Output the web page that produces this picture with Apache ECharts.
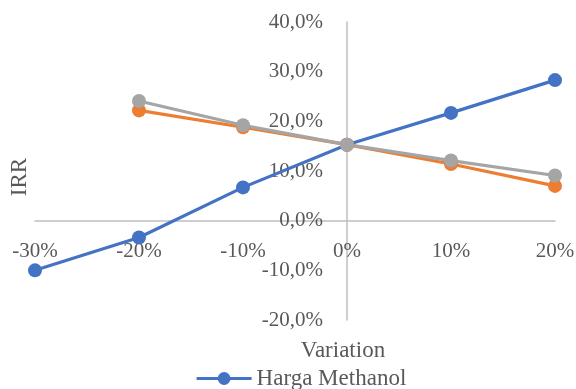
<!DOCTYPE html>
<html>
<head>
<meta charset="utf-8">
<script src="https://cdn.jsdelivr.net/npm/echarts@6/dist/echarts.min.js"></script>
<style>
  html, body { margin: 0; padding: 0; background: #fff; }
  #chart { width: 576px; height: 389px; }
</style>
</head>
<body>
<div id="chart"></div>
<script>
// variation in %, IRR in %
var variations = [-30, -20, -10, 0, 10, 20];
var hargaMethanol = [-10.0, -3.4, 6.7, 15.3, 21.7, 28.3];
var seriesOrange = [null, 22.2, 18.8, 15.3, 11.4, 7.0];
var seriesGray = [null, 24.1, 19.2, 15.3, 12.1, 9.1];

var textColor = '#595959';
var font = 'Liberation Serif';

// plot box
var gridLeft = 35, gridRight = 21, gridTop = 22, gridBottom = 69;
var plotW = 576 - gridLeft - gridRight;
var plotH = 389 - gridTop - gridBottom;
// move the axes so they cross at (0%, 0%)
var xOffset = -plotH * (20 / 60);
var yOffset = -plotW * (30 / 50);

function pairs(vals) {
  var out = [];
  for (var i = 0; i < variations.length; i++) {
    if (vals[i] !== null) out.push([variations[i], vals[i]]);
  }
  return out;
}

function lineSeries(name, vals, color) {
  return {
    name: name,
    type: 'line',
    data: pairs(vals),
    symbol: 'circle',
    symbolSize: 14,
    lineStyle: { color: color, width: 3.2 },
    itemStyle: { color: color },
    emphasis: { disabled: true }
  };
}

var chart = echarts.init(document.getElementById('chart'));
chart.setOption({
  animation: false,
  textStyle: { fontFamily: font, color: textColor },
  grid: {
    left: gridLeft, right: gridRight, top: gridTop, bottom: gridBottom,
    containLabel: false, outerBoundsMode: 'none'
  },
  xAxis: {
    type: 'value',
    min: -30, max: 20, interval: 10,
    offset: xOffset,
    axisLine: { onZero: false, lineStyle: { color: '#bfbfbf', width: 1.5 } },
    axisTick: { show: false },
    splitLine: { show: false },
    axisLabel: {
      margin: 20,
      fontFamily: font, fontSize: 21, color: textColor,
      formatter: function(v) { return v + '%'; }
    }
  },
  yAxis: {
    type: 'value',
    min: -20, max: 40, interval: 10,
    offset: yOffset,
    axisLine: { show: true, onZero: false, lineStyle: { color: '#bfbfbf', width: 1.5 } },
    axisTick: { show: false },
    splitLine: { show: false },
    axisLabel: {
      margin: 24,
      fontFamily: font, fontSize: 21, color: textColor,
      formatter: function(v) { return v.toFixed(1).replace('.', ',') + '%'; }
    }
  },
  legend: {
    data: ['Harga Methanol'],
    left: 190, top: 362,
    itemWidth: 55, itemHeight: 16, itemGap: 4,
    lineStyle: { width: 3.2 },
    textStyle: { fontFamily: font, fontSize: 23, color: textColor }
  },
  graphic: [
    {
      type: 'text', x: 20, y: 177, rotation: Math.PI / 2,
      style: { text: 'IRR', font: '23px "Liberation Serif"', fill: textColor,
               align: 'center', verticalAlign: 'middle' }
    },
    {
      type: 'text', x: 343, y: 351,
      style: { text: 'Variation', font: '23px "Liberation Serif"', fill: textColor,
               align: 'center', verticalAlign: 'middle' }
    }
  ],
  series: [
    lineSeries('Harga Methanol', hargaMethanol, '#4472C4'),
    lineSeries('Harga Bahan Baku', seriesOrange, '#ED7D31'),
    lineSeries('Biaya Produksi', seriesGray, '#A5A5A5')
  ]
});
</script>
</body>
</html>
